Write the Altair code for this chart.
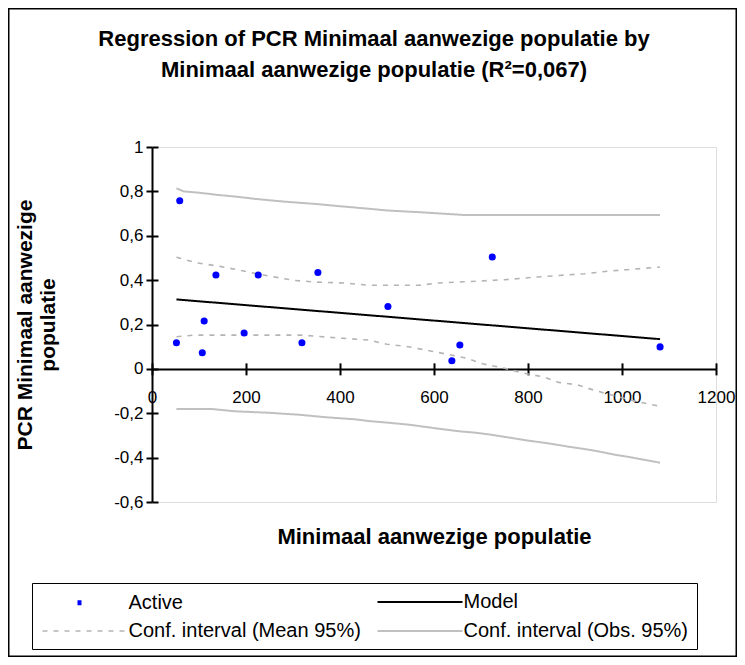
import altair as alt
import pandas as pd

# ---- data ----
act_x = [52, 59, 107, 111, 136, 196, 226, 319, 353, 502, 638, 655, 724, 1081]
act_y = [0.118, 0.758, 0.073, 0.216, 0.423, 0.162, 0.423, 0.118, 0.434, 0.281, 0.037, 0.108, 0.504, 0.099]

model_x = [52, 1081]
model_y = [0.313, 0.134]

mean_up_x = [52, 95, 145, 195, 222, 272, 302, 350, 410, 460, 570, 610, 690, 750, 820, 920, 970, 1010, 1081]
mean_up_y = [0.503, 0.478, 0.462, 0.441, 0.429, 0.41, 0.399, 0.391, 0.387, 0.377, 0.377, 0.387, 0.395, 0.402, 0.414, 0.429, 0.44, 0.447, 0.459]
mean_lo_x = [52, 90, 320, 380, 460, 500, 545, 590, 670, 705, 750, 790, 835, 865, 905, 945, 1030, 1081]
mean_lo_y = [0.145, 0.152, 0.152, 0.142, 0.13, 0.111, 0.100, 0.082, 0.048, 0.022, 0.003, -0.019, -0.037, -0.061, -0.072, -0.099, -0.147, -0.169]
obs_up_x = [52, 67, 100, 140, 180, 220, 280, 350, 400, 460, 500, 570, 660, 1081]
obs_up_y = [0.814, 0.80, 0.794, 0.784, 0.776, 0.766, 0.754, 0.743, 0.733, 0.722, 0.714, 0.706, 0.694, 0.694]
obs_lo_x = [52, 128, 175, 250, 315, 370, 430, 465, 505, 548, 587, 618, 652, 690, 722, 755, 782, 802, 835, 862, 887, 913, 940, 962, 985, 1012, 1035, 1058, 1081]
obs_lo_y = [-0.181, -0.181, -0.191, -0.198, -0.207, -0.218, -0.227, -0.236, -0.243, -0.252, -0.263, -0.272, -0.281, -0.288, -0.297, -0.308, -0.317, -0.324, -0.333, -0.342, -0.351, -0.359, -0.368, -0.377, -0.387, -0.396, -0.405, -0.414, -0.423]

series_names = ["Active", "Model", "Conf. interval (Mean 95%)", "Conf. interval (Obs. 95%)"]
series_colors = ["#0000ff", "#000000", "#b4b4b4", "#c0c0c0"]
series_dash = [[0, 35, 4, 400], [1, 0], [5, 6], [1, 0]]
series_width = [5, 2, 1.6, 2]

x_ticks = [0, 200, 400, 600, 800, 1000, 1200]
y_ticks = [-0.6, -0.4, -0.2, 0, 0.2, 0.4, 0.6, 0.8, 1]

title_lines = ["Regression of PCR Minimaal aanwezige populatie by",
               "Minimaal aanwezige populatie (R²=0,067)"]
x_title = "Minimaal aanwezige populatie"
y_title = ["PCR Minimaal aanwezige", "populatie"]

# ---- build tables ----
pts = pd.DataFrame({"x": act_x, "y": act_y, "series": "Active"})
rows = []
for key, ser, xs, ys in [
    ("model", series_names[1], model_x, model_y),
    ("mean_up", series_names[2], mean_up_x, mean_up_y),
    ("mean_lo", series_names[2], mean_lo_x, mean_lo_y),
    ("obs_up", series_names[3], obs_up_x, obs_up_y),
    ("obs_lo", series_names[3], obs_lo_x, obs_lo_y),
]:
    for a, b in zip(xs, ys):
        rows.append({"x": a, "y": b, "series": ser, "key": key})
lines = pd.DataFrame(rows)

FONT = "Liberation Sans"
W, H = 564, 355
PAD = {"left": 144, "top": 139, "right": 21, "bottom": 155}
y0_offset = H * (0 - (-0.6)) / (1 - (-0.6))  # distance of y=0 from the bottom

xscale = alt.Scale(domain=[0, 1200], nice=False, zero=False)
yscale = alt.Scale(domain=[-0.6, 1], nice=False, zero=False)

ylabel = "replace(replace(format(datum.value, '.2~f'), '.', ','), '\u2212', '-')"

x_main = alt.Axis(values=x_ticks, format="d", labelFlush=False, labelOverlap=False,
                  offset=-y0_offset, tickSize=6, tickWidth=2, tickColor="black",
                  domainColor="black", domainWidth=2, labelFontSize=17, labelFont=FONT,
                  labelColor="black", labelPadding=15, grid=False,
                  title=x_title, titleFontSize=22, titleFont=FONT, titleFontWeight="bold",
                  titleColor="black", titleY=168, titleBaseline="middle")
y_main = alt.Axis(values=y_ticks, labelExpr=ylabel, labelOverlap=False, labelFlush=False,
                  tickSize=6, tickWidth=2, tickColor="black", domainColor="black",
                  domainWidth=2, labelFontSize=17, labelFont=FONT, labelColor="black",
                  labelPadding=3, grid=False,
                  title=y_title, titleFontSize=21, titleFont=FONT, titleFontWeight="bold",
                  titleColor="black", titleX=-127, titleY=H / 2, titleAngle=-90,
                  titleAlign="center", titleBaseline="middle")
x_sec = alt.Axis(values=x_ticks, orient="top", offset=-(H - y0_offset), tickSize=6,
                 tickWidth=2, tickColor="black", domain=False, labels=False, title=None,
                 grid=False)
y_sec = alt.Axis(values=y_ticks, orient="right", offset=-W, tickSize=6, tickWidth=2,
                 tickColor="black", domain=False, labels=False, title=None, grid=False)

SYM_BOX = 18          # nominal symbol box used for layout
SYM_LEN = 85          # drawn symbol length
sym_path = f"M{-SYM_LEN / SYM_BOX:.4f},0H{SYM_LEN / SYM_BOX:.4f}"
sym_off = (SYM_LEN - SYM_BOX) / 2

leg = alt.Legend(title=None, orient="none", legendX=-120, legendY=436, columns=2,
                 direction="horizontal",
                 symbolType=sym_path, symbolSize=SYM_BOX * SYM_BOX,
                 symbolOffset=sym_off,
                 labelOffset=32,
                 labelFontSize=20, labelFont=FONT, labelColor="black", labelLimit=500,
                 strokeColor="black", padding=8, rowPadding=8, columnPadding=12,
                 gridAlign="each")

line_layer = alt.Chart(lines).mark_line(clip=False).encode(
    x=alt.X("x:Q", scale=xscale, axis=x_main),
    y=alt.Y("y:Q", scale=yscale, axis=y_main),
    detail="key:N",
    color=alt.Color("series:N", scale=alt.Scale(domain=series_names, range=series_colors), legend=leg),
    strokeDash=alt.StrokeDash("series:N", scale=alt.Scale(type="ordinal", domain=series_names, range=series_dash), legend=leg),
    strokeWidth=alt.StrokeWidth("series:N", scale=alt.Scale(type="ordinal", domain=series_names, range=series_width), legend=leg),
)

pt_layer = alt.Chart(pts).mark_circle(size=50, opacity=1, color="#0000ff").encode(
    x=alt.X("x:Q", scale=xscale, axis=x_sec),
    y=alt.Y("y:Q", scale=yscale, axis=y_sec),
)

frame = alt.Chart(pd.DataFrame({"a": [0]})).mark_rect(
    fillOpacity=0, stroke="black", strokeWidth=1.5).encode(
    x=alt.value(-PAD["left"] + 0.75), x2=alt.value(W + PAD["right"] - 0.75),
    y=alt.value(-PAD["top"] + 0.75), y2=alt.value(H + PAD["bottom"] - 0.75),
)

chart = alt.layer(frame, line_layer, pt_layer).resolve_axis(
    x="independent", y="independent"
).properties(
    width=W, height=H,
    title=alt.TitleParams(title_lines, fontSize=22, font=FONT, fontWeight="bold",
                          color="black", anchor="middle", dx=-60, offset=-74, lineHeight=31),
    autosize=alt.AutoSizeParams(type="none"),
    padding=PAD,
).configure_view(stroke="#808080", strokeWidth=1.5).configure(background="white")

chart.save("out.html", embed_options={"renderer": "svg", "actions": False})
